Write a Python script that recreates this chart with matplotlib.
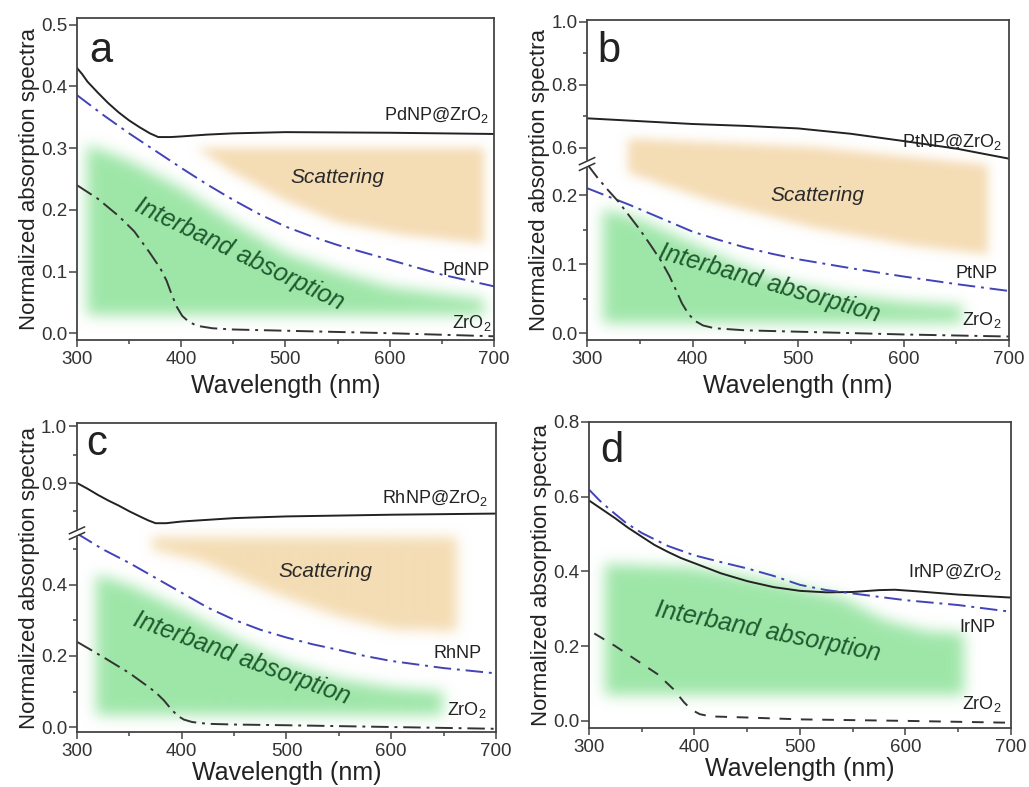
import numpy as np
import matplotlib.pyplot as plt
from matplotlib.path import Path
from matplotlib.colors import to_rgb
from matplotlib.ticker import FormatStrFormatter

plt.rcParams['font.family'] = ['Liberation Sans', 'DejaVu Sans']
plt.rcParams['mathtext.fontset'] = 'custom'
plt.rcParams['mathtext.rm'] = 'Liberation Sans'
plt.rcParams['mathtext.it'] = 'Liberation Sans:italic'

# ---- panel a: Pd ----
wl_a_np = [300, 305, 310, 320, 330, 340, 350, 360, 370, 378, 390, 400, 425, 450, 500, 600, 700]
pd_zro2 = [0.43, 0.42, 0.408, 0.39, 0.373, 0.358, 0.345, 0.334, 0.324, 0.318, 0.318, 0.319,
           0.322, 0.324, 0.326, 0.325, 0.323]
wl_a_bare = [300, 325, 350, 375, 400, 425, 450, 475, 500, 525, 550, 575, 600, 650, 700]
pdnp = [0.386, 0.354, 0.324, 0.296, 0.268, 0.241, 0.216, 0.193, 0.173, 0.157, 0.143, 0.131,
        0.119, 0.095, 0.076]
wl_a_zr = [300, 320, 340, 355, 370, 380, 386, 391, 396, 401, 407, 415, 430, 450, 500, 600, 700]
zro2_a = [0.24, 0.218, 0.19, 0.165, 0.13, 0.105, 0.085, 0.062, 0.042, 0.028, 0.019, 0.012,
          0.008, 0.006, 0.004, 0.0, -0.005]

# ---- panel b: Pt ----
wl_b_np = [300, 350, 400, 450, 500, 550, 600, 650, 700]
pt_zro2 = [0.694, 0.685, 0.676, 0.670, 0.662, 0.645, 0.622, 0.598, 0.566]
wl_b_bare = [300, 320, 340, 360, 380, 400, 425, 450, 475, 500, 550, 600, 650, 700]
ptnp = [0.21, 0.198, 0.186, 0.173, 0.16, 0.147, 0.135, 0.124, 0.115, 0.107, 0.094, 0.082,
        0.071, 0.061]
wl_b_zr = [300, 310, 320, 330, 340, 350, 360, 370, 378, 385, 390, 396, 402, 410, 421, 450,
           500, 600, 700]
zro2_b = [0.245, 0.225, 0.207, 0.19, 0.17, 0.15, 0.128, 0.105, 0.083, 0.06, 0.043, 0.028,
          0.018, 0.011, 0.007, 0.004, 0.002, -0.002, -0.005]

# ---- panel c: Rh ----
wl_c_np = [300, 310, 320, 330, 340, 350, 360, 368, 375, 385, 400, 425, 450, 500, 600, 700]
rh_zro2 = [0.9, 0.89, 0.879, 0.869, 0.86, 0.85, 0.841, 0.834, 0.829, 0.829, 0.832, 0.835,
           0.838, 0.841, 0.844, 0.846]
wl_c_bare = [300, 325, 350, 375, 400, 425, 450, 475, 500, 525, 550, 575, 600, 650, 700]
rhnp = [0.545, 0.5, 0.462, 0.42, 0.378, 0.336, 0.302, 0.274, 0.252, 0.233, 0.217, 0.2,
        0.186, 0.166, 0.151]
wl_c_zr = [300, 325, 350, 365, 375, 383, 390, 396, 402, 410, 425, 450, 500, 600, 700]
zro2_c = [0.24, 0.197, 0.152, 0.12, 0.098, 0.075, 0.05, 0.032, 0.021, 0.014, 0.009, 0.007,
          0.005, 0.0, -0.005]

# ---- panel d: Ir ----
wl_d_np = [300, 312, 325, 337, 350, 362, 375, 387, 400, 425, 450, 475, 500, 525, 550, 575,
           590, 610, 650, 700]
ir_zro2 = [0.59, 0.567, 0.542, 0.517, 0.493, 0.471, 0.452, 0.436, 0.422, 0.395, 0.374, 0.358,
           0.348, 0.344, 0.345, 0.35, 0.351, 0.347, 0.338, 0.33]
wl_d_bare = [300, 310, 320, 335, 350, 375, 400, 425, 450, 475, 500, 525, 550, 600, 650, 700]
irnp = [0.619, 0.59, 0.565, 0.53, 0.503, 0.468, 0.443, 0.425, 0.408, 0.388, 0.364, 0.35,
        0.341, 0.323, 0.31, 0.292]
wl_d_zr = [305, 325, 350, 365, 380, 390, 397, 405, 415, 450, 500, 600, 700]
zro2_d = [0.234, 0.2, 0.153, 0.125, 0.085, 0.05, 0.03, 0.018, 0.012, 0.009, 0.004, 0.0, -0.005]

# shaded regions (wavelength, absorbance)
green_a = [(310, 0.03), (310, 0.305), (350, 0.28), (400, 0.235), (450, 0.18), (500, 0.13),
           (550, 0.10), (600, 0.075), (690, 0.055), (690, 0.03)]
orange_a = [(415, 0.30), (690, 0.30), (690, 0.145), (610, 0.16), (550, 0.18), (500, 0.215), (450, 0.26)]
green_b = [(315, 0.015), (315, 0.18), (350, 0.165), (400, 0.13), (450, 0.095), (500, 0.07),
           (550, 0.055), (600, 0.045), (655, 0.04), (655, 0.015)]
orange_b = [(339, 0.63), (516, 0.603), (680, 0.244), (680, 0.114), (611, 0.126), (516, 0.152),
            (421, 0.19), (339, 0.232)]
green_c = [(318, 0.035), (318, 0.43), (350, 0.4), (400, 0.33), (450, 0.25), (500, 0.18),
           (550, 0.135), (600, 0.11), (648, 0.1), (648, 0.035)]
orange_c = [(372, 0.535), (662, 0.535), (662, 0.27), (600, 0.275), (545, 0.315), (480, 0.385),
            (420, 0.465), (372, 0.5)]
green_d = [(315, 0.07), (315, 0.42), (400, 0.41), (480, 0.37), (540, 0.33), (580, 0.27),
           (620, 0.24), (655, 0.235), (655, 0.07)]

BLUE = '#4343b8'
DARK = '#333333'
GREEN = '#9ee6a8'
ORANGE = '#f4dbb0'
TXTGREEN = '#1f5a2e'
DASHDOT = (0, (9, 3, 1.5, 3))


def blur(m, s):
    r = int(3 * s)
    k = np.exp(-0.5 * (np.arange(-r, r + 1) / s) ** 2)
    k /= k.sum()
    m = np.apply_along_axis(lambda v: np.convolve(v, k, mode='same'), 0, m)
    m = np.apply_along_axis(lambda v: np.convolve(v, k, mode='same'), 1, m)
    return m


def region(ax, poly, color, alpha=1.0, sigma=7):
    bb = ax.get_window_extent()
    W, H = int(round(bb.width)), int(round(bb.height))
    pts = (ax.transScale + ax.transLimits).transform(np.asarray(poly, float))
    gx, gy = np.meshgrid((np.arange(W) + 0.5) / W, (np.arange(H) + 0.5) / H)
    inside = Path(pts).contains_points(np.column_stack([gx.ravel(), gy.ravel()]))
    soft = blur(inside.reshape(H, W).astype(float), sigma)
    rgba = np.zeros((H, W, 4))
    rgba[..., :3] = to_rgb(color)
    rgba[..., 3] = alpha * np.clip(soft, 0, 1)
    ax.imshow(rgba, extent=(0, 1, 0, 1), transform=ax.transAxes, origin='lower',
              aspect='auto', interpolation='bilinear', zorder=0)


def broken(xp, fp):
    return (lambda y: np.interp(y, xp, fp), lambda u: np.interp(u, fp, xp))


def setup(ax, ylim, major, minor=None, scale=None, xlab_pad=4):
    if scale is not None:
        ax.set_yscale('function', functions=scale)
    ax.set_xlim(300, 700)
    ax.set_ylim(*ylim)
    ax.set_xticks([300, 400, 500, 600, 700])
    ax.set_xticks([350, 450, 550, 650], minor=True)
    ax.set_yticks(major)
    if minor:
        ax.set_yticks(minor, minor=True)
    else:
        ax.set_yticks([], minor=True)
    ax.yaxis.set_major_formatter(FormatStrFormatter('%.1f'))
    ax.tick_params(which='both', direction='out', color='#444444', width=1.1,
                   labelsize=13.5, labelcolor='#333333')
    ax.tick_params(axis='y', which='major', length=6, pad=1)
    ax.tick_params(axis='x', which='major', length=5, pad=3)
    ax.tick_params(which='minor', length=3)
    for s in ax.spines.values():
        s.set_color('#444444')
        s.set_linewidth(1.3)
    ax.set_xlabel('Wavelength (nm)', fontsize=18, labelpad=xlab_pad, color='#222222')
    ax.set_ylabel('Normalized absorption spectra', fontsize=16, labelpad=1, color='#222222')


def break_mark(ax, yb):
    yf = (ax.transScale + ax.transLimits).transform([[300, yb]])[0][1]
    ax.plot([-0.004, 0.004], [yf - 0.009, yf + 0.009], transform=ax.transAxes, color='white',
            lw=3, clip_on=False, zorder=5, solid_capstyle='butt')
    for dy in (-0.009, 0.009):
        ax.plot([-0.018, 0.018], [yf + dy - 0.011, yf + dy + 0.011], transform=ax.transAxes,
                color='#333333', lw=1.1, clip_on=False, zorder=6)


fig = plt.figure(figsize=(10.29, 7.87), dpi=100)
axa = fig.add_axes([0.0748, 0.568, 0.4052, 0.4091])
axb = fig.add_axes([0.5705, 0.568, 0.4101, 0.4066])
axc = fig.add_axes([0.0748, 0.0699, 0.4072, 0.3926])
axd = fig.add_axes([0.5724, 0.0750, 0.4101, 0.3888])

setup(axa, (-0.011, 0.511), [0.0, 0.1, 0.2, 0.3, 0.4, 0.5])
setup(axb, (-0.010, 1.006), [0.0, 0.1, 0.2, 0.6, 0.8, 1.0], [0.05, 0.15, 0.7, 0.9],
      scale=broken([-0.1, 0.245, 0.55, 1.1], [-69, 169, 169.3, 342.6]))
setup(axc, (-0.014, 1.006), [0.0, 0.2, 0.4, 0.9, 1.0], [0.1, 0.3, 0.5, 0.85, 0.95],
      scale=broken([-0.1, 0.546, 0.812, 1.1], [-35.5, 194, 194.3, 357.4]), xlab_pad=1)
setup(axd, (-0.019, 0.8), [0.0, 0.2, 0.4, 0.6, 0.8], xlab_pad=1)

lw = 1.4
# a
axa.plot(wl_a_np, pd_zro2, color='#222222', lw=lw)
axa.plot(wl_a_bare, pdnp, color=BLUE, lw=lw, ls=DASHDOT)
axa.plot(wl_a_zr, zro2_a, color=DARK, lw=lw, ls=DASHDOT)
# b
axb.plot(wl_b_np, pt_zro2, color='#222222', lw=lw)
axb.plot(wl_b_bare, ptnp, color=BLUE, lw=lw, ls=DASHDOT)
axb.plot(wl_b_zr, zro2_b, color=DARK, lw=lw, ls=DASHDOT)
# c
axc.plot(wl_c_np, rh_zro2, color='#222222', lw=lw)
axc.plot(wl_c_bare, rhnp, color=BLUE, lw=lw, ls=DASHDOT)
axc.plot(wl_c_zr, zro2_c, color=DARK, lw=lw, ls=DASHDOT)
# d
axd.plot(wl_d_np, ir_zro2, color='#222222', lw=lw)
axd.plot(wl_d_bare, irnp, color=BLUE, lw=lw, ls=DASHDOT)
axd.plot(wl_d_zr, zro2_d, color=DARK, lw=lw, ls=(0, (6, 5)))

region(axa, green_a, GREEN)
region(axa, orange_a, ORANGE, 0.95, 5)
region(axb, green_b, GREEN)
region(axb, orange_b, ORANGE, 0.95, 5)
region(axc, green_c, GREEN)
region(axc, orange_c, ORANGE, 0.95, 6)
region(axd, green_d, GREEN)

break_mark(axb, 0.245)
break_mark(axc, 0.546)

lab = dict(fontsize=13, ha='right', va='baseline', color='#222222')
axa.text(695, 0.345, 'PdNP@ZrO$_2$', **lab)
axa.text(696, 0.094, 'PdNP', **lab)
axa.text(698, 0.008, 'ZrO$_2$', **lab)
axb.text(693, 0.603, 'PtNP@ZrO$_2$', **lab)
axb.text(689, 0.080, 'PtNP', **lab)
axb.text(693, 0.0116, 'ZrO$_2$', **lab)
axc.text(692, 0.865, 'RhNP@ZrO$_2$', **lab)
axc.text(686, 0.194, 'RhNP', **lab)
axc.text(691, 0.034, 'ZrO$_2$', **lab)
axd.text(691, 0.385, 'IrNP@ZrO$_2$', **lab)
axd.text(685, 0.238, 'IrNP', **lab)
axd.text(691, 0.033, 'ZrO$_2$', **lab)

sc = dict(fontsize=15, style='italic', ha='center', va='center', color='#2a2a2a')
axa.text(550, 0.253, 'Scattering', **sc)
axb.text(518, 0.200, 'Scattering', **sc)
axc.text(537, 0.437, 'Scattering', **sc)

ib = dict(fontsize=18, style='italic', ha='center', va='center', color=TXTGREEN,
          rotation_mode='anchor')
axa.text(456, 0.128, 'Interband absorption', rotation=-25.8, **ib)
axb.text(473, 0.072, 'Interband absorption', rotation=-16.2, **ib)
axc.text(457, 0.194, 'Interband absorption', rotation=-20.2, **ib)
axd.text(469, 0.238, 'Interband absorption', rotation=-11.3, **ib)

pl = dict(fontsize=30, ha='left', va='baseline', color='#222222')
axa.text(0.03, 0.863, 'a', transform=axa.transAxes, **pl)
axb.text(0.025, 0.869, 'b', transform=axb.transAxes, **pl)
axc.text(0.022, 0.896, 'c', transform=axc.transAxes, **pl)
axd.text(0.027, 0.869, 'd', transform=axd.transAxes, **pl)

for ax, ylim in ((axa, (-0.011, 0.511)), (axb, (-0.010, 1.006)), (axc, (-0.014, 1.006)), (axd, (-0.019, 0.8))):
    ax.set_xlim(300, 700)
    ax.set_ylim(*ylim)

fig.savefig('out.png', dpi=100)
